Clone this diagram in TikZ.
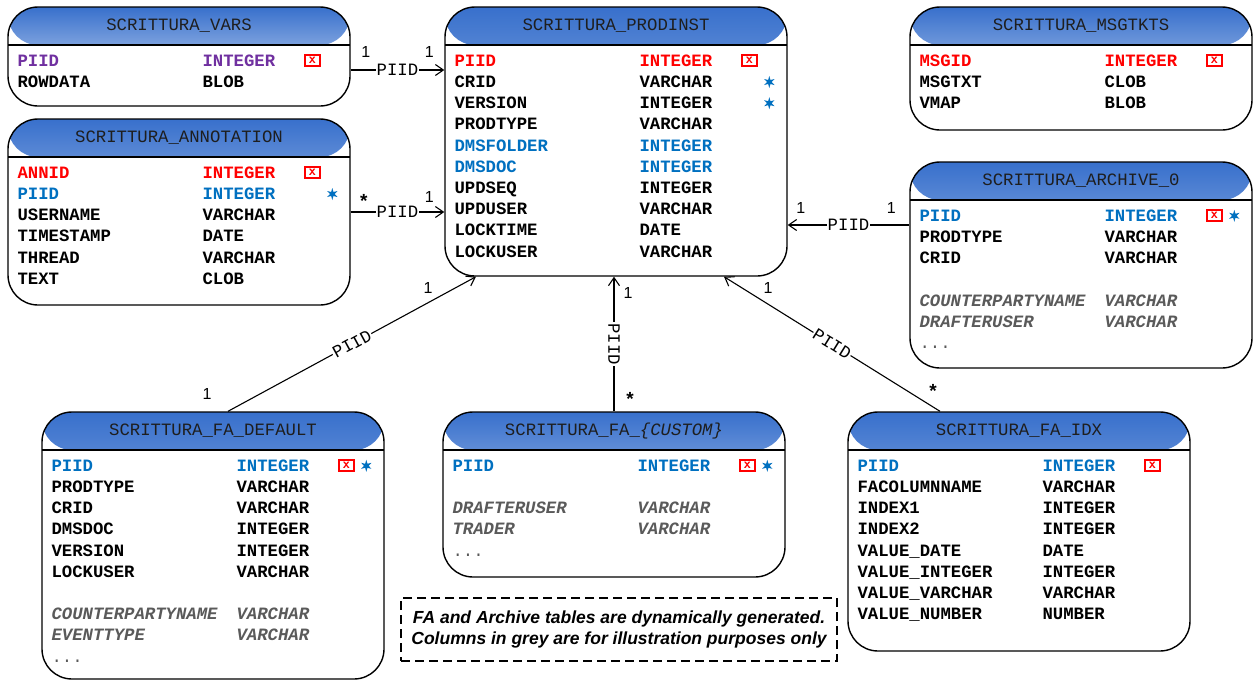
\documentclass[tikz,border=0pt]{standalone}
\usepackage{fontspec}
\setmainfont{Liberation Sans}
\setmonofont{Liberation Mono}
\usetikzlibrary{arrows.meta,shapes.geometric}

\definecolor{hdrtop}{RGB}{56,112,204}
\definecolor{hdrbot}{RGB}{232,239,251}
\definecolor{pkred}{RGB}{255,0,0}
\definecolor{fkblue}{RGB}{0,112,192}
\definecolor{pidpurple}{RGB}{112,48,160}
\definecolor{optgrey}{RGB}{90,90,90}
\definecolor{titleink}{RGB}{30,30,30}

% one column row: name at the left, SQL type in the second column
\newcommand\fld[5]{%
  \node[fieldtxt,#5] (#1-n#2) at ([shift={(10,{38.8+21.2*#2})}]#1.north west) {#3};
  \node[fieldtxt,#5] (#1-t#2) at ([shift={(195,{38.8+21.2*#2})}]#1.north west) {#4};}
% ellipsis row for tables with generated columns
\newcommand\more[2]{%
  \node[dotstxt] (#1-m#2) at ([shift={(10,{38.8+21.2*#2})}]#1.north west) {...};}
% primary key and indexed-column markers
\newcommand\pkmark[2]{%
  \node[pkbox] (#1-pk#2) at ([shift={(305,{32.8+21.2*#2})}]#1.north west) {x};}
\newcommand\fkmark[2]{%
  \node[fkstar] (#1-fk#2) at ([shift={(325,{33.3+21.2*#2})}]#1.north west) {};}

\begin{document}
\begin{tikzpicture}[
  x=1pt, y=-1pt,
  tbl/.style={draw=black, line width=1.4pt, fill=white, rounded corners=30pt,
    inner sep=0pt, minimum width=342pt,
    path picture={
      \shade[top color=hdrtop, bottom color=hdrbot]
        (path picture bounding box.north west) rectangle
        ([yshift=-38pt]path picture bounding box.north east);
      \draw[line width=1.4pt]
        ([yshift=-38pt]path picture bounding box.north west) --
        ([yshift=-38pt]path picture bounding box.north east);
    }},
  tbltitle/.style={font=\ttfamily\fontsize{17.3}{20}\selectfont, text=titleink,
    inner sep=0pt, anchor=base},
  fieldtxt/.style={font=\ttfamily\bfseries\fontsize{17.3}{20}\selectfont,
    inner sep=0pt, anchor=base west},
  dotstxt/.style={font=\ttfamily\fontsize{17.3}{20}\selectfont, text=optgrey,
    inner sep=0pt, anchor=base west},
  pkcol/.style={text=pkred},
  fkcol/.style={text=fkblue},
  pidcol/.style={text=pidpurple},
  optcol/.style={text=optgrey,
    font=\ttfamily\bfseries\itshape\fontsize{17.3}{20}\selectfont},
  pkbox/.style={draw=pkred, line width=1.8pt, fill=white, text=pkred,
    minimum width=15pt, minimum height=11pt, inner sep=0pt,
    font=\sffamily\bfseries\fontsize{14}{14}\selectfont},
  fkstar/.style={star, star points=6, star point ratio=2.6, fill=fkblue,
    draw=none, inner sep=0pt, minimum size=12pt},
  rel/.style={draw=black, line width=1.1pt,
    -{Straight Barb[length=8pt,width=11pt]}},
  rellbl/.style={font=\ttfamily\fontsize{17.3}{20}\selectfont, fill=white,
    inner sep=1pt},
  card/.style={font=\fontsize{16}{16}\selectfont, inner sep=0pt},
  manycard/.style={font=\bfseries\fontsize{19}{19}\selectfont, inner sep=0pt},
  notebox/.style={draw=black, line width=1.6pt, dash pattern=on 9pt off 5pt,
    minimum width=436pt, minimum height=63pt, align=center,
    font=\bfseries\itshape\fontsize{17.5}{21}\selectfont},
]
\useasboundingbox (0,0) rectangle (1254,681);
\fill[white] (0,0) rectangle (1254,681);

% ---------- tables ----------
\node[tbl, minimum height=99pt]  (vars)       at (179,56.5) {};
\node[tbl, minimum height=269pt] (prodinst)   at (616,141.5) {};
\node[tbl, minimum height=123pt] (msgtkts)    at (1081,68.5) {};
\node[tbl, minimum height=186pt] (annotation) at (179,212) {};
\node[tbl, minimum height=206pt] (archive)    at (1081,265) {};
\node[tbl, minimum height=267pt] (fadefault)  at (213,545.5) {};
\node[tbl, minimum height=165pt] (facustom)   at (614,494.5) {};
\node[tbl, minimum height=239pt] (faidx)      at (1019,531.5) {};

\node[tbltitle] (vars-h)       at ([yshift=-24pt]vars.north) {SCRITTURA\_VARS};
\node[tbltitle] (prodinst-h)   at ([yshift=-24pt]prodinst.north) {SCRITTURA\_PRODINST};
\node[tbltitle] (msgtkts-h)    at ([yshift=-24pt]msgtkts.north) {SCRITTURA\_MSGTKTS};
\node[tbltitle] (annotation-h) at ([yshift=-24pt]annotation.north) {SCRITTURA\_ANNOTATION};
\node[tbltitle] (archive-h)    at ([yshift=-24pt]archive.north) {SCRITTURA\_ARCHIVE\_0};
\node[tbltitle] (fadefault-h)  at ([yshift=-24pt]fadefault.north) {SCRITTURA\_FA\_DEFAULT};
\node[tbltitle] (facustom-h)   at ([yshift=-24pt]facustom.north) {SCRITTURA\_FA\_{\itshape\{CUSTOM\}}};
\node[tbltitle] (faidx-h)      at ([yshift=-24pt]faidx.north) {SCRITTURA\_FA\_IDX};

% SCRITTURA_VARS
\fld{vars}{1}{PIID}{INTEGER}{pidcol} \pkmark{vars}{1}
\fld{vars}{2}{ROWDATA}{BLOB}{}

% SCRITTURA_PRODINST
\fld{prodinst}{1}{PIID}{INTEGER}{pkcol} \pkmark{prodinst}{1}
\fld{prodinst}{2}{CRID}{VARCHAR}{} \fkmark{prodinst}{2}
\fld{prodinst}{3}{VERSION}{INTEGER}{} \fkmark{prodinst}{3}
\fld{prodinst}{4}{PRODTYPE}{VARCHAR}{}
\fld{prodinst}{5}{DMSFOLDER}{INTEGER}{fkcol}
\fld{prodinst}{6}{DMSDOC}{INTEGER}{fkcol}
\fld{prodinst}{7}{UPDSEQ}{INTEGER}{}
\fld{prodinst}{8}{UPDUSER}{VARCHAR}{}
\fld{prodinst}{9}{LOCKTIME}{DATE}{}
\fld{prodinst}{10}{LOCKUSER}{VARCHAR}{}

% SCRITTURA_MSGTKTS
\fld{msgtkts}{1}{MSGID}{INTEGER}{pkcol} \pkmark{msgtkts}{1}
\fld{msgtkts}{2}{MSGTXT}{CLOB}{}
\fld{msgtkts}{3}{VMAP}{BLOB}{}

% SCRITTURA_ANNOTATION
\fld{annotation}{1}{ANNID}{INTEGER}{pkcol} \pkmark{annotation}{1}
\fld{annotation}{2}{PIID}{INTEGER}{fkcol} \fkmark{annotation}{2}
\fld{annotation}{3}{USERNAME}{VARCHAR}{}
\fld{annotation}{4}{TIMESTAMP}{DATE}{}
\fld{annotation}{5}{THREAD}{VARCHAR}{}
\fld{annotation}{6}{TEXT}{CLOB}{}

% SCRITTURA_ARCHIVE_0
\fld{archive}{1}{PIID}{INTEGER}{fkcol} \pkmark{archive}{1} \fkmark{archive}{1}
\fld{archive}{2}{PRODTYPE}{VARCHAR}{}
\fld{archive}{3}{CRID}{VARCHAR}{}
\fld{archive}{5}{COUNTERPARTYNAME}{VARCHAR}{optcol}
\fld{archive}{6}{DRAFTERUSER}{VARCHAR}{optcol}
\more{archive}{7}

% SCRITTURA_FA_DEFAULT
\fld{fadefault}{1}{PIID}{INTEGER}{fkcol} \pkmark{fadefault}{1} \fkmark{fadefault}{1}
\fld{fadefault}{2}{PRODTYPE}{VARCHAR}{}
\fld{fadefault}{3}{CRID}{VARCHAR}{}
\fld{fadefault}{4}{DMSDOC}{INTEGER}{}
\fld{fadefault}{5}{VERSION}{INTEGER}{}
\fld{fadefault}{6}{LOCKUSER}{VARCHAR}{}
\fld{fadefault}{8}{COUNTERPARTYNAME}{VARCHAR}{optcol}
\fld{fadefault}{9}{EVENTTYPE}{VARCHAR}{optcol}
\more{fadefault}{10}

% SCRITTURA_FA_{CUSTOM}
\fld{facustom}{1}{PIID}{INTEGER}{fkcol} \pkmark{facustom}{1} \fkmark{facustom}{1}
\fld{facustom}{3}{DRAFTERUSER}{VARCHAR}{optcol}
\fld{facustom}{4}{TRADER}{VARCHAR}{optcol}
\more{facustom}{5}

% SCRITTURA_FA_IDX
\fld{faidx}{1}{PIID}{INTEGER}{fkcol} \pkmark{faidx}{1}
\fld{faidx}{2}{FACOLUMNNAME}{VARCHAR}{}
\fld{faidx}{3}{INDEX1}{INTEGER}{}
\fld{faidx}{4}{INDEX2}{INTEGER}{}
\fld{faidx}{5}{VALUE\_DATE}{DATE}{}
\fld{faidx}{6}{VALUE\_INTEGER}{INTEGER}{}
\fld{faidx}{7}{VALUE\_VARCHAR}{VARCHAR}{}
\fld{faidx}{8}{VALUE\_NUMBER}{NUMBER}{}

% ---------- relations on PIID ----------
\coordinate (r1s) at ([yshift=-13.5pt]vars.east);
\coordinate (r1e) at (r1s -| prodinst.west);
\draw[rel] (r1s) -- node[rellbl] (r1-l) {PIID} (r1e);
\node[card] (r1-a) at ([shift={(15,-18)}]r1s) {1};
\node[card] (r1-b) at ([shift={(-15,-18)}]r1e) {1};

\coordinate (r2s) at (annotation.east);
\coordinate (r2e) at (r2s -| prodinst.west);
\draw[rel] (r2s) -- node[rellbl] (r2-l) {PIID} (r2e);
\node[manycard] (r2-a) at ([shift={(13,-11)}]r2s) {*};
\node[card] (r2-b) at ([shift={(-15,-15)}]r2e) {1};

\coordinate (r3s) at ([yshift=40pt]archive.west);
\coordinate (r3e) at (r3s -| prodinst.east);
\draw[rel] (r3s) -- node[rellbl] (r3-l) {PIID} (r3e);
\node[card] (r3-a) at ([shift={(-18,-17)}]r3s) {1};
\node[card] (r3-b) at ([shift={(13,-17)}]r3e) {1};

\coordinate (r4s) at ([xshift=15pt]fadefault.north);
\coordinate (r4e) at ([xshift=-140pt]prodinst.south);
\draw[rel] (r4s) -- node[rellbl, sloped] (r4-l) {PIID} (r4e);
\node[card] (r4-a) at ([shift={(-21,-17)}]r4s) {1};
\node[card] (r4-b) at ([shift={(-48,11)}]r4e) {1};

\coordinate (r5s) at (facustom.north);
\coordinate (r5e) at (r5s |- prodinst.south);
\draw[rel] (r5s) -- node[rellbl, rotate=-90] (r5-l) {PIID} (r5e);
\node[manycard] (r5-a) at ([shift={(16,-12)}]r5s) {*};
\node[card] (r5-b) at ([shift={(14,16)}]r5e) {1};

\coordinate (r6s) at ([xshift=-79pt]faidx.north);
\coordinate (r6e) at ([xshift=108pt]prodinst.south);
\draw[rel] (r6s) -- node[rellbl, sloped] (r6-l) {PIID} (r6e);
\node[manycard] (r6-a) at ([shift={(-7,-20)}]r6s) {*};
\node[card] (r6-b) at ([shift={(44,11)}]r6e) {1};

% ---------- note ----------
\node[notebox] (note) at (619,629.5)
  {FA and Archive tables are dynamically generated.\\
   Columns in grey are for illustration purposes only};
\end{tikzpicture}
\end{document}
